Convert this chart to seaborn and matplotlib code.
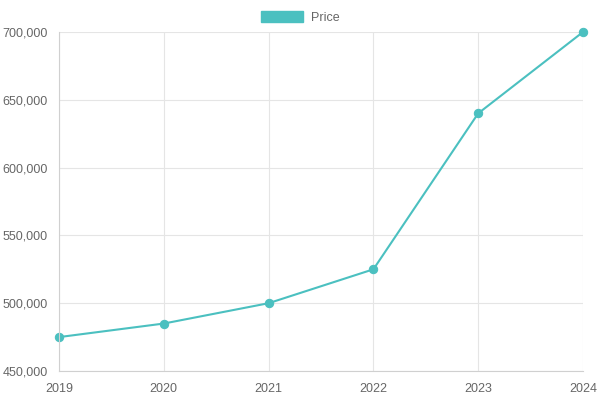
import pandas as pd
import seaborn as sns
import matplotlib.pyplot as plt
from matplotlib.patches import Patch
from matplotlib.ticker import FuncFormatter, MultipleLocator

# Data
years = ['2019', '2020', '2021', '2022', '2023', '2024']
prices = [475000, 485000, 500000, 525000, 640000, 700000]

df = pd.DataFrame({'Year': range(len(years)), 'Price': prices})

sns.set_theme(style='white')
plt.rcParams['font.family'] = ['Liberation Sans', 'DejaVu Sans']

teal = '#4bc0c0'
grid = '#e5e5e5'
text = '#666666'

fig = plt.figure(figsize=(6, 4), dpi=100)
ax = fig.add_axes([59 / 600, 29 / 400, 524 / 600, 339 / 400])

sns.lineplot(data=df, x='Year', y='Price', ax=ax, color=teal, linewidth=1.5,
             marker='o', markersize=6, markeredgecolor=teal, clip_on=False)

ax.set_xlim(0, len(years) - 1)
ax.set_ylim(450000, 700000)
ax.set_xticks(range(len(years)))
ax.set_xticklabels(years)
ax.yaxis.set_major_locator(MultipleLocator(50000))
ax.yaxis.set_major_formatter(FuncFormatter(lambda v, p: f'{int(v):,}'))

ax.set_xlabel('')
ax.set_ylabel('')
ax.grid(True, color=grid, linewidth=0.8)
for side in ['top', 'right']:
    ax.spines[side].set_visible(False)
for side in ['left', 'bottom']:
    ax.spines[side].set_color('#d0d0d0')
    ax.spines[side].set_linewidth(0.8)
ax.tick_params(axis='both', colors=grid, labelcolor=text, labelsize=9,
               length=6, width=0.8, pad=2)
ax.tick_params(axis='x', pad=3)

handle = Patch(facecolor=teal, edgecolor=teal, label='Price')
fig.legend(handles=[handle], loc='upper center', bbox_to_anchor=(0.5, 1.0),
           frameon=False, fontsize=9, labelcolor=text,
           handlelength=3.4, handleheight=1.0, handletextpad=0.6,
           borderaxespad=0.5)

fig.savefig('out.png', dpi=100)
